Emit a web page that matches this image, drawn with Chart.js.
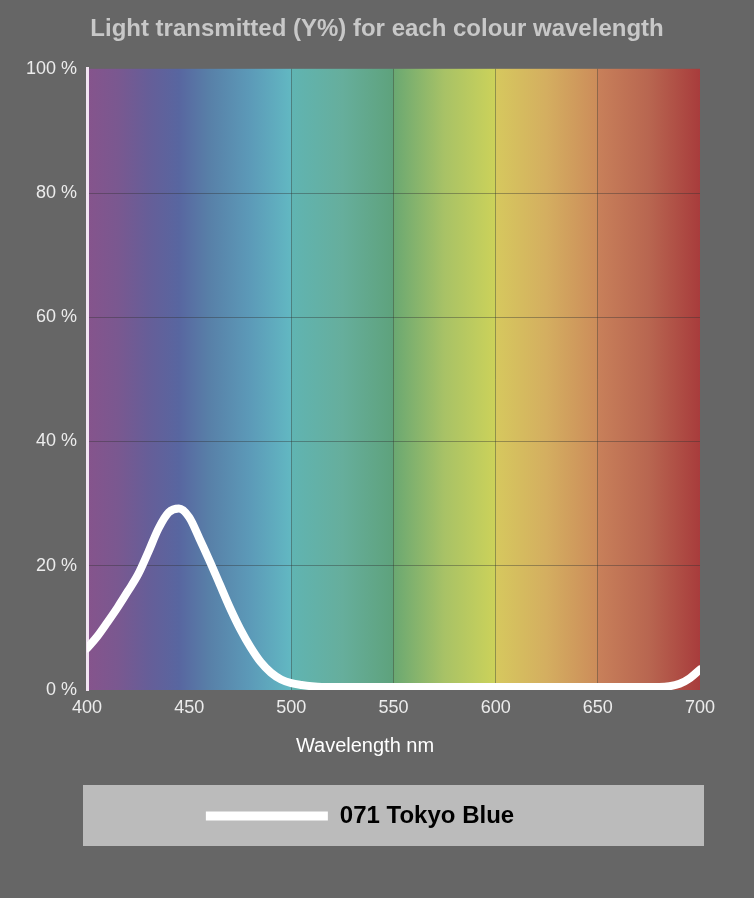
<!DOCTYPE html>
<html>
<head>
<meta charset="utf-8">
<script src="https://cdn.jsdelivr.net/npm/chart.js@4.4.1/dist/chart.umd.min.js"></script>
<style>
  body { margin: 0; background: #666666; }
  #wrap { width: 754px; height: 898px; }
</style>
</head>
<body>
<div id="wrap"><canvas id="myChart_spectrum"></canvas></div>
<script>
const seriesName = '071 Tokyo Blue';
const wavelengths = [400, 405, 410, 415, 420, 425, 430, 435, 440, 445, 450, 455, 460, 465, 470, 475, 480, 485, 490, 495,
  500, 505, 510, 515, 520, 525, 530, 535, 540, 545, 550, 555, 560, 565, 570, 575, 580, 585, 590, 595,
  600, 605, 610, 615, 620, 625, 630, 635, 640, 645, 650, 655, 660, 665, 670, 675, 680, 685, 690, 695, 700];
const transmission = [6.7, 8.6, 10.9, 13.3, 15.9, 18.6, 22.2, 26.0, 28.6, 29.2, 27.8, 24.4, 20.8, 17.0, 13.2, 9.8, 6.9, 4.5, 2.8, 1.7,
  1.1, 0.8, 0.6, 0.5, 0.5, 0.5, 0.5, 0.5, 0.5, 0.5, 0.5, 0.5, 0.5, 0.5, 0.5, 0.5, 0.5, 0.5, 0.5, 0.5,
  0.5, 0.5, 0.5, 0.5, 0.5, 0.5, 0.5, 0.5, 0.5, 0.5, 0.5, 0.5, 0.5, 0.5, 0.5, 0.5, 0.5, 0.6, 1.0, 1.9, 3.3];
const xTickValues = [400, 450, 500, 550, 600, 650, 700];
const yTickValues = [0, 20, 40, 60, 80, 100];
const xGridAt = [500, 550, 600, 650];

const FONT = 'Liberation Sans, Arial, Helvetica, sans-serif';
const GRID = 'rgba(50,50,50,0.4)';

// colour band behind the plot, stops in nm
const spectrumStops = [
  [400, '#86548c'], [415, '#7a5890'], [430, '#665e98'], [445, '#5866a0'], [460, '#5880a8'], [480, '#5c9ab8'], [499.9, '#62b8c2'],
  [500, '#60b4b2'], [525, '#66ae9c'], [549.9, '#5ea27c'],
  [550, '#6aa872'], [575, '#a8c266'], [599.9, '#ccd25a'],
  [600, '#d6c85e'], [625, '#d4ae60'], [649.9, '#cc8c5a'],
  [650, '#c8805a'], [675, '#b86650'], [700, '#a83c3c']
];

const backdrop = {
  id: 'backdrop',
  afterLayout(chart) {
    // legend item sits a bit left of centre in the original
    chart.legend.right -= 34;
    chart.legend.width -= 34;
  },
  beforeDraw(chart) {
    const { ctx, chartArea, scales } = chart;
    ctx.save();
    // legend panel
    const hb = chart.legend.legendHitBoxes[0];
    if (hb) {
      const cy = hb.top + hb.height / 2;
      ctx.fillStyle = '#bbbbbb';
      ctx.fillRect(83, cy - 31, 621, 61);
    }
    // spectrum
    const x0 = chartArea.left, x1 = chartArea.right;
    const grad = ctx.createLinearGradient(x0, 0, x1, 0);
    spectrumStops.forEach(([nm, c]) => {
      const p = (scales.x.getPixelForValue(nm) - x0) / (x1 - x0);
      grad.addColorStop(Math.min(1, Math.max(0, p)), c);
    });
    ctx.fillStyle = grad;
    ctx.fillRect(x0, chartArea.top, x1 - x0, chartArea.bottom - chartArea.top);
    ctx.restore();
  },
  afterDraw(chart) {
    const { ctx, chartArea } = chart;
    ctx.save();
    ctx.fillStyle = '#ffffff';
    ctx.font = '20px ' + FONT;
    ctx.textAlign = 'center';
    ctx.textBaseline = 'middle';
    ctx.fillText('Wavelength nm', 365, chartArea.bottom + 56);
    ctx.restore();
  }
};

const ctx = document.getElementById('myChart_spectrum').getContext('2d');
new Chart(ctx, {
  type: 'line',
  data: {
    datasets: [{
      label: seriesName,
      data: wavelengths.map((w, i) => ({ x: w, y: transmission[i] })),
      borderColor: '#ffffff',
      backgroundColor: '#ffffff',
      borderWidth: 8,
      borderCapStyle: 'round',
      borderJoinStyle: 'round',
      cubicInterpolationMode: 'monotone',
      pointRadius: 0,
      fill: false
    }]
  },
  options: {
    responsive: true,
    maintainAspectRatio: false,
    animation: false,
    layout: { padding: { left: 0, right: 0, top: 0, bottom: 60 } },
    plugins: {
      title: {
        display: true,
        text: 'Light transmitted (Y%) for each colour wavelength',
        color: '#c8c8c8',
        font: { family: FONT, size: 24, weight: 'bold' },
        padding: { top: 15, bottom: 25 }
      },
      legend: {
        position: 'bottom',
        labels: {
          boxWidth: 122,
          boxHeight: 9,
          padding: 10,
          color: '#000000',
          font: { family: FONT, size: 24, weight: 'bold' },
          generateLabels: () => [{
            text: seriesName, fillStyle: '#ffffff', strokeStyle: '#ffffff',
            lineWidth: 0, hidden: false, datasetIndex: 0
          }]
        }
      },
      tooltip: { enabled: false }
    },
    scales: {
      x: {
        type: 'linear',
        min: 400,
        max: 700,
        afterBuildTicks: s => { s.ticks = xTickValues.map(v => ({ value: v })); },
        afterFit: s => { s.height = 104; },
        ticks: { color: '#ececec', font: { family: FONT, size: 18 }, padding: 7, maxRotation: 0 },
        grid: {
          drawTicks: false,
          lineWidth: 1,
          color: c => xGridAt.includes(c.tick && c.tick.value) ? GRID : 'rgba(0,0,0,0)'
        },
        border: { display: false }
      },
      y: {
        min: 0,
        max: 100,
        afterBuildTicks: s => { s.ticks = yTickValues.map(v => ({ value: v })); },
        afterFit: s => { s.width = 87; },
        ticks: { color: '#ececec', font: { family: FONT, size: 18 }, padding: 10, callback: v => v + ' %' },
        grid: {
          drawTicks: false,
          lineWidth: 1,
          color: c => (c.tick && c.tick.value > 0 && c.tick.value < 100) ? GRID : 'rgba(0,0,0,0)'
        },
        border: { display: true, color: '#f2e4f2', width: 3 }
      },
      yRight: {
        position: 'right',
        display: true,
        min: 0,
        max: 100,
        afterFit: s => { s.width = 54; },
        ticks: { display: false },
        grid: { display: false },
        border: { display: false }
      }
    }
  },
  plugins: [backdrop]
});
</script>
</body>
</html>
